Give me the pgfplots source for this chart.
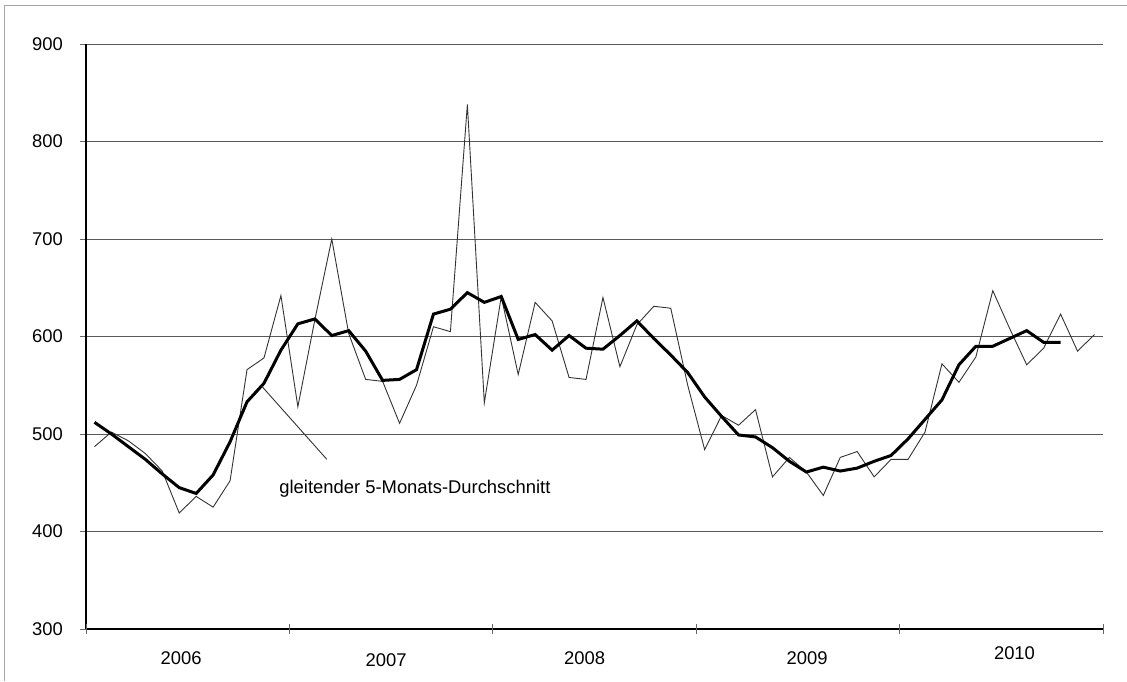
\documentclass[border=0pt]{standalone}
\usepackage{fontspec}
\setmainfont{Liberation Sans}
\usepackage{pgfplots}
\pgfplotsset{compat=1.18}

\begin{document}
\begin{tikzpicture}[font=\fontsize{18.4}{22}\selectfont, x=1pt, y=1pt]
\useasboundingbox (0,0) rectangle (1127,681);
\draw[gray!70, line width=1.6pt] (4.5,0) -- (4.5,675.5) -- (1127,675.5);
\begin{axis}[
  at={(86pt,52pt)}, anchor=south west,
  width=1017pt, height=585pt, scale only axis,
  xmin=-0.5, xmax=59.5, ymin=300, ymax=900,
  axis x line*=bottom, axis y line*=left,
  axis line style={line width=1.2pt, -},
  ytick={300,400,...,900},
  ymajorgrids=true,
  major grid style={color=black!65, line width=0.9pt},
  ytick align=outside,
  major tick length=6pt,
  ytick style={color=black!60, line width=0.9pt},
  yticklabel style={anchor=east, inner sep=0pt, xshift=-17pt},
  /pgf/number format/assume math mode=true,
  xtick=\empty,
  extra x ticks={-0.5,11.5,23.5,35.5,47.5,59.5},
  extra x tick labels={},
  extra x tick style={major tick length=10pt, tick align=center,
    tick style={color=black!60, line width=0.9pt}},
  clip=false,
]
% monatliche Werte
\addplot[color=black!80, line width=0.9pt] coordinates {
(0,487)(1,502)(2,493)(3,480)(4,462)(5,419)(6,436)(7,425)(8,452)(9,566)
(10,578)(11,642)(12,528)(13,617)(14,700)(15,603)(16,556)(17,554)(18,511)(19,550)
(20,610)(21,605)(22,838)(23,532)(24,641)(25,561)(26,635)(27,616)(28,558)(29,556)
(30,640)(31,569)(32,612)(33,631)(34,629)(35,550)(36,484)(37,519)(38,509)(39,525)
(40,456)(41,476)(42,461)(43,437)(44,476)(45,482)(46,456)(47,474)(48,474)(49,502)
(50,572)(51,553)(52,579)(53,647)(54,608)(55,571)(56,588)(57,623)(58,585)(59,602)
};
% gleitender 5-Monats-Durchschnitt
\addplot[color=black, line width=3pt] coordinates {
(0,512)(1,500)(2,487)(3,474)(4,459)(5,445)(6,439)(7,458)(8,492)(9,533)
(10,552)(11,586)(12,613)(13,618)(14,601)(15,606)(16,585)(17,555)(18,556)(19,566)
(20,623)(21,628)(22,645)(23,635)(24,641)(25,597)(26,602)(27,586)(28,601)(29,588)
(30,587)(31,601)(32,616)(33,598)(34,581)(35,563)(36,538)(37,518)(38,499)(39,497)
(40,486)(41,472)(42,461)(43,466)(44,462)(45,465)(46,472)(47,478)(48,495)(49,515)
(50,535)(51,571)(52,590)(53,590)(54,598)(55,606)(56,594)(57,594)
};
\draw[black!80, line width=0.9pt] (axis cs:9.87,549) -- (axis cs:13.71,474);
\node[anchor=west, inner sep=0pt] at (axis cs:10.9,443.6) {gleitender 5-Monats-Durchschnitt};
% Jahresbeschriftungen
\node[inner sep=0pt] at (axis cs:5.11,300) [yshift=-28.7pt] {2006};
\node[inner sep=0pt] at (axis cs:17.21,300) [yshift=-31pt] {2007};
\node[inner sep=0pt] at (axis cs:28.92,300) [yshift=-28.7pt] {2008};
\node[inner sep=0pt] at (axis cs:42.04,300) [yshift=-28.7pt] {2009};
\node[inner sep=0pt] at (axis cs:54.28,300) [yshift=-24.3pt] {2010};
\end{axis}
\end{tikzpicture}
\end{document}
